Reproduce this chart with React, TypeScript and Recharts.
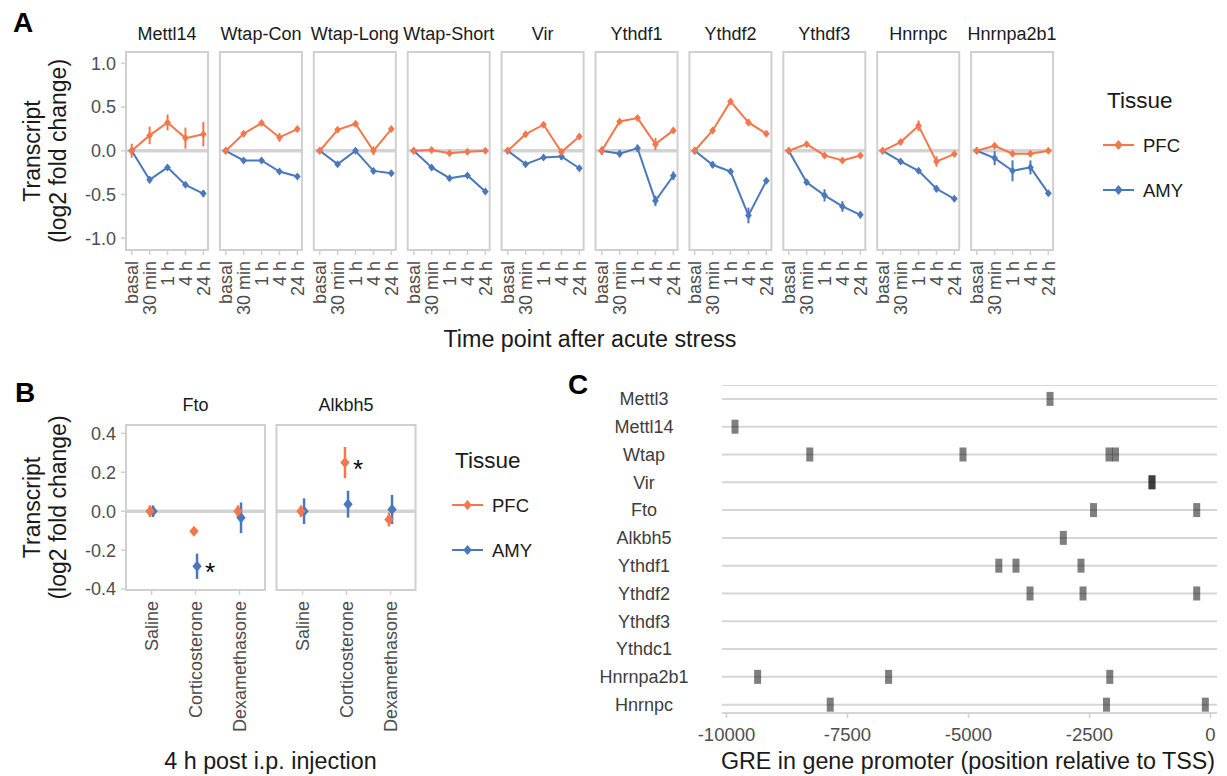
import React from 'react';
import { LineChart, Line, XAxis, YAxis, ErrorBar, ScatterChart, Scatter, ReferenceLine, CartesianGrid } from 'recharts';

const FONT = '"Liberation Sans", Arial, Helvetica, sans-serif';
const PFC_COLOR = '#F4774B';
const AMY_COLOR = '#4A78BA';
const BORDER = '#d0d0d0';
const ZERO = '#d3d3d3';
const TICK_TEXT = '#4d4d4d';
const DARK = '#1a1a1a';
const TITLE_SIZE = 23.3;

// ---------------- Panel A data ----------------
const timepoints = ['basal', '30 min', '1 h', '4 h', '24 h'];
const genesA = ['Mettl14', 'Wtap-Con', 'Wtap-Long', 'Wtap-Short', 'Vir', 'Ythdf1', 'Ythdf2', 'Ythdf3', 'Hnrnpc', 'Hnrnpa2b1'];
const pfcMeanA = [
  [0, 0.176, 0.324, 0.145, 0.19],
  [0, 0.195, 0.317, 0.153, 0.248],
  [0, 0.24, 0.31, 0.0, 0.248],
  [0, 0.01, -0.027, -0.01, 0.0],
  [0, 0.19, 0.298, -0.015, 0.164],
  [0, 0.336, 0.374, 0.076, 0.233],
  [0, 0.233, 0.565, 0.324, 0.195],
  [0, 0.076, -0.053, -0.11, -0.053],
  [0, 0.1, 0.286, -0.122, -0.038],
  [0, 0.057, -0.034, -0.034, 0.0],
];
const pfcErrA = [
  [0.08, 0.1, 0.09, 0.12, 0.14],
  [0.02, 0.02, 0.02, 0.05, 0.03],
  [0.02, 0.02, 0.02, 0.05, 0.02],
  [0.02, 0.02, 0.02, 0.03, 0.02],
  [0.02, 0.02, 0.02, 0.04, 0.02],
  [0.05, 0.02, 0.02, 0.07, 0.03],
  [0.04, 0.02, 0.02, 0.04, 0.02],
  [0.02, 0.02, 0.02, 0.03, 0.02],
  [0.02, 0.02, 0.06, 0.06, 0.02],
  [0.02, 0.02, 0.02, 0.03, 0.02],
];
const amyMeanA = [
  [0, -0.332, -0.19, -0.39, -0.49],
  [0, -0.11, -0.11, -0.237, -0.294],
  [0, -0.153, 0.0, -0.23, -0.256],
  [0, -0.19, -0.313, -0.282, -0.466],
  [0, -0.153, -0.076, -0.065, -0.2],
  [0, -0.034, 0.03, -0.573, -0.286],
  [0, -0.16, -0.237, -0.74, -0.344],
  [0, -0.36, -0.51, -0.637, -0.733],
  [0, -0.122, -0.229, -0.435, -0.55],
  [0, -0.084, -0.229, -0.19, -0.485],
];
const amyErrA = [
  [0.02, 0.04, 0.025, 0.025, 0.04],
  [0.02, 0.02, 0.02, 0.02, 0.02],
  [0.02, 0.02, 0.02, 0.03, 0.02],
  [0.01, 0.02, 0.02, 0.02, 0.03],
  [0.02, 0.02, 0.02, 0.04, 0.02],
  [0.02, 0.04, 0.04, 0.06, 0.05],
  [0.02, 0.04, 0.02, 0.09, 0.02],
  [0.02, 0.03, 0.07, 0.06, 0.04],
  [0.03, 0.02, 0.02, 0.04, 0.03],
  [0.02, 0.08, 0.12, 0.08, 0.03],
];
const yTicksA = [-1, -0.5, 0, 0.5, 1];

// ---------------- Panel B data ----------------
const treatments = ['Saline', 'Corticosterone', 'Dexamethasone'];
const genesB = ['Fto', 'Alkbh5'];
const pfcMeanB = [[0, -0.103, 0.0], [0, 0.25, -0.043]];
const pfcErrB = [[0.03, 0.01, 0.03], [0.03, 0.08, 0.035]];
const amyMeanB = [[0, -0.283, -0.034], [0, 0.036, 0.009]];
const amyErrB = [[0.03, 0.065, 0.079], [0.066, 0.069, 0.075]];
const pfcSigB = [['', '', ''], ['', '*', '']];
const amySigB = [['', '*', ''], ['', '', '']];
const yTicksB = [-0.4, -0.2, 0, 0.2, 0.4];

// ---------------- Panel C data ----------------
const genesC = ['Mettl3', 'Mettl14', 'Wtap', 'Vir', 'Fto', 'Alkbh5', 'Ythdf1', 'Ythdf2', 'Ythdf3', 'Ythdc1', 'Hnrnpa2b1', 'Hnrnpc'];
const greSites = [
  [-3316],
  [-9824],
  [-8279, -5114, -2097, -1963],
  [-1209, -1209],
  [-2417, -285],
  [-3041],
  [-4374, -4019, -2676],
  [-3729, -2634, -285],
  [],
  [],
  [-9357, -6651, -2081],
  [-7857, -2149, -107],
];
const xTicksC = [-10000, -7500, -5000, -2500, 0];

// ---------------- layout ----------------
const A_LEFT0 = 126;
const A_STEP = 93.9;
const A_W = 82;
const A_TOP = 52;
const A_H = 198;
const B_LEFTS = [126, 276.5];
const B_W = 139;
const B_TOP = 425;
const B_H = 165;
const M = 8;
const DOMAIN_A: [number, number] = [-1.135, 1.13];
const XDOMAIN_A: [number, number] = [-0.32, 4.26];
const DOMAIN_B: [number, number] = [-0.405, 0.443];
const XDOMAIN_B: [number, number] = [-0.58, 2.58];

const diamondPath = (cx: number, cy: number, r: number) =>
  `M${cx},${cy - r}L${cx + r * 0.85},${cy}L${cx},${cy + r}L${cx - r * 0.85},${cy}Z`;

const makeDot = (color: string, r: number) => (p: any) => {
  if (p.cx == null || p.cy == null) return <g key={`d${p.index}`} />;
  return <path key={`d${p.index}`} d={diamondPath(p.cx, p.cy, r)} fill={color} />;
};

const RotTick = (props: any) => {
  const { x, y, label } = props;
  return (
    <text
      x={x}
      y={y}
      transform={`rotate(-90, ${x}, ${y})`}
      textAnchor="end"
      dy="0.35em"
      fill={TICK_TEXT}
      fontSize={18}
      fontFamily={FONT}
    >
      {label}
    </text>
  );
};

function FacetA({ idx }: { idx: number }) {
  const first = idx === 0;
  const yW = first ? 46 : 0;
  const data = timepoints.map((t, j) => ({
    x: j,
    pfc: pfcMeanA[idx][j],
    pfcErr: pfcErrA[idx][j],
    amy: amyMeanA[idx][j],
    amyErr: amyErrA[idx][j],
  }));
  const plotLeft = A_LEFT0 + A_STEP * idx;
  return (
    <div style={{ position: 'absolute', left: plotLeft - M - yW, top: A_TOP - M }}>
      <LineChart width={A_W + 2 * M + yW} height={M + A_H + 80} data={data} margin={{ top: M, right: M, bottom: 0, left: M }}>
        <XAxis
          dataKey="x"
          type="number"
          domain={XDOMAIN_A}
          allowDataOverflow
          ticks={[0, 1, 2, 3, 4]}
          interval={0}
          height={80}
          tickSize={5}
          tickMargin={6}
          axisLine={false}
          tickLine={{ stroke: BORDER, strokeWidth: 1.5 }}
          tick={(p: any) => <RotTick key={`t${p.index}`} {...p} label={timepoints[p.payload.value]} />}
        />
        <YAxis
          type="number"
          domain={DOMAIN_A}
          allowDataOverflow
          ticks={yTicksA}
          width={first ? yW : 1}
          hide={!first}
          tick={{ fill: TICK_TEXT, fontSize: 18, fontFamily: FONT }}
          tickFormatter={(v: number) => v.toFixed(1)}
          tickSize={5}
          tickMargin={5}
          tickLine={{ stroke: BORDER, strokeWidth: 1.5 }}
          axisLine={false}
        />
        <ReferenceLine y={0} stroke={ZERO} strokeWidth={3.5} />
        <Line dataKey="amy" stroke={AMY_COLOR} strokeWidth={2} isAnimationActive={false} dot={makeDot(AMY_COLOR, 4)} activeDot={false}>
          <ErrorBar dataKey="amyErr" direction="y" width={0} stroke={AMY_COLOR} strokeWidth={2} />
        </Line>
        <Line dataKey="pfc" stroke={PFC_COLOR} strokeWidth={2} isAnimationActive={false} dot={makeDot(PFC_COLOR, 4)} activeDot={false}>
          <ErrorBar dataKey="pfcErr" direction="y" width={0} stroke={PFC_COLOR} strokeWidth={2} />
        </Line>
      </LineChart>
    </div>
  );
}

const makeShapeB = (color: string) => (p: any) => {
  const { cx, cy, payload } = p;
  if (cx == null || cy == null) return <g />;
  return (
    <g>
      <path d={diamondPath(cx, cy, 5.5)} fill={color} />
      {payload && payload.sig ? (
        <text x={cx + 13} y={cy + 15} textAnchor="middle" fontSize={26} fontFamily={FONT} fill="#000">
          {payload.sig}
        </text>
      ) : null}
    </g>
  );
};

function FacetB({ idx }: { idx: number }) {
  const first = idx === 0;
  const yW = first ? 46 : 0;
  const pfcData = treatments.map((t, j) => ({ x: j - 0.035, y: pfcMeanB[idx][j], err: pfcErrB[idx][j], sig: pfcSigB[idx][j] }));
  const amyData = treatments.map((t, j) => ({ x: j + 0.035, y: amyMeanB[idx][j], err: amyErrB[idx][j], sig: amySigB[idx][j] }));
  const plotLeft = B_LEFTS[idx];
  return (
    <div style={{ position: 'absolute', left: plotLeft - M - yW, top: B_TOP - M }}>
      <ScatterChart width={B_W + 2 * M + yW} height={M + B_H + 150} margin={{ top: M, right: M, bottom: 0, left: M }}>
        <XAxis
          dataKey="x"
          type="number"
          domain={XDOMAIN_B}
          allowDataOverflow
          ticks={[0, 1, 2]}
          interval={0}
          height={150}
          tickSize={5}
          tickMargin={6}
          axisLine={false}
          tickLine={{ stroke: BORDER, strokeWidth: 1.5 }}
          tick={(p: any) => <RotTick key={`t${p.index}`} {...p} label={treatments[p.payload.value]} />}
        />
        <YAxis
          dataKey="y"
          type="number"
          domain={DOMAIN_B}
          allowDataOverflow
          ticks={yTicksB}
          width={first ? yW : 1}
          hide={!first}
          tick={{ fill: TICK_TEXT, fontSize: 18, fontFamily: FONT }}
          tickFormatter={(v: number) => v.toFixed(1)}
          tickSize={5}
          tickMargin={5}
          tickLine={{ stroke: BORDER, strokeWidth: 1.5 }}
          axisLine={false}
        />
        <ReferenceLine y={0} stroke={ZERO} strokeWidth={3.5} />
        <Scatter data={amyData} dataKey="y" fill={AMY_COLOR} isAnimationActive={false} shape={makeShapeB(AMY_COLOR)}>
          <ErrorBar dataKey="err" direction="y" width={0} stroke={AMY_COLOR} strokeWidth={2.5} />
        </Scatter>
        <Scatter data={pfcData} dataKey="y" fill={PFC_COLOR} isAnimationActive={false} shape={makeShapeB(PFC_COLOR)}>
          <ErrorBar dataKey="err" direction="y" width={0} stroke={PFC_COLOR} strokeWidth={2.5} />
        </Scatter>
      </ScatterChart>
    </div>
  );
}

const greData = greSites.flatMap((sites, row) => sites.map((pos) => ({ pos, row })));

const GreRect = (p: any) => {
  const { cx, cy } = p;
  if (cx == null || cy == null) return <g />;
  return <rect x={cx - 3.5} y={cy - 7} width={7} height={14} fill="#000" fillOpacity={0.5} />;
};

function PanelC() {
  return (
    <div style={{ position: 'absolute', left: 590, top: 385 }}>
      <ScatterChart width={637} height={328 + 42} margin={{ top: 0, right: 10, bottom: 0, left: 0 }}>
        <CartesianGrid horizontal vertical={false} stroke="#d6d6d6" strokeWidth={2} />
        <XAxis
          dataKey="pos"
          type="number"
          domain={[-10093, 134]}
          allowDataOverflow
          ticks={xTicksC}
          interval={0}
          height={42}
          axisLine={false}
          tickSize={5}
          tickMargin={10}
          tickLine={{ stroke: BORDER, strokeWidth: 1.5 }}
          tick={{ fill: TICK_TEXT, fontSize: 18.5, fontFamily: FONT }}
        />
        <YAxis
          dataKey="row"
          type="number"
          domain={[-0.5, 11.3]}
          reversed
          allowDataOverflow
          ticks={genesC.map((g, i) => i)}
          interval={0}
          width={132}
          axisLine={false}
          tickLine={false}
          tickSize={0}
          tickMargin={0}
          tick={(p: any) => (
            <text key={`g${p.index}`} x={p.x - 78} y={p.y} dy="0.35em" textAnchor="middle" fill="#3d3d3d" fontSize={18} fontFamily={FONT}>
              {genesC[p.payload.value]}
            </text>
          )}
        />
        <Scatter data={greData} dataKey="row" isAnimationActive={false} shape={GreRect} />
      </ScatterChart>
    </div>
  );
}

function LegendBlock({ x, titleY, itemYs, keyX }: { x: number; titleY: number; itemYs: number[]; keyX: number }) {
  const items = [
    { name: 'PFC', color: PFC_COLOR },
    { name: 'AMY', color: AMY_COLOR },
  ];
  return (
    <g>
      <text x={x} y={titleY} fontSize={22.5} fontFamily={FONT} fill={DARK}>Tissue</text>
      {items.map((it, i) => (
        <g key={it.name}>
          <line x1={keyX} x2={keyX + 31} y1={itemYs[i]} y2={itemYs[i]} stroke={it.color} strokeWidth={2} />
          <path d={diamondPath(keyX + 15.5, itemYs[i], 5)} fill={it.color} />
          <text x={keyX + 40} y={itemYs[i] + 7} fontSize={18.5} fontFamily={FONT} fill={DARK}>{it.name}</text>
        </g>
      ))}
    </g>
  );
}

export default function App() {
  return (
    <div style={{ position: 'absolute', left: 0, top: 0, width: 1227, height: 776, background: '#fff', fontFamily: FONT, overflow: 'hidden' }}>
      {genesA.map((g, i) => (
        <FacetA key={g} idx={i} />
      ))}
      {genesB.map((g, i) => (
        <FacetB key={g} idx={i} />
      ))}
      <PanelC />
      <svg width={1227} height={776} style={{ position: 'absolute', left: 0, top: 0, pointerEvents: 'none' }}>
        {/* panel borders */}
        {genesA.map((g, i) => (
          <rect key={`ba${g}`} x={A_LEFT0 + A_STEP * i} y={A_TOP} width={A_W} height={A_H} fill="none" stroke={BORDER} strokeWidth={2} />
        ))}
        {genesB.map((g, i) => (
          <rect key={`bb${g}`} x={B_LEFTS[i]} y={B_TOP} width={B_W} height={B_H} fill="none" stroke={BORDER} strokeWidth={2} />
        ))}

        {/* panel letters */}
        <text x={13} y={32} fontSize={28} fontWeight="bold" fontFamily={FONT} fill="#000">A</text>
        <text x={15} y={402} fontSize={28} fontWeight="bold" fontFamily={FONT} fill="#000">B</text>
        <text x={568} y={394} fontSize={28} fontWeight="bold" fontFamily={FONT} fill="#000">C</text>

        {/* Panel A strips */}
        {genesA.map((g, i) => (
          <text key={g} x={A_LEFT0 + A_STEP * i + A_W / 2} y={40} textAnchor="middle" fontSize={18} fontFamily={FONT} fill={DARK}>{g}</text>
        ))}
        {/* Panel A titles */}
        <text x={590} y={347} textAnchor="middle" fontSize={TITLE_SIZE} fontFamily={FONT} fill={DARK}>Time point after acute stress</text>
        <text transform="translate(40,151) rotate(-90)" textAnchor="middle" fontSize={23} fontFamily={FONT} fill={DARK}>Transcript</text>
        <text transform="translate(66,151) rotate(-90)" textAnchor="middle" fontSize={23} fontFamily={FONT} fill={DARK}>(log2 fold change)</text>
        <LegendBlock x={1107} titleY={108} itemYs={[145, 190]} keyX={1103} />

        {/* Panel B strips */}
        {genesB.map((g, i) => (
          <text key={g} x={B_LEFTS[i] + B_W / 2} y={411} textAnchor="middle" fontSize={18} fontFamily={FONT} fill={DARK}>{g}</text>
        ))}
        <text x={270.5} y={769} textAnchor="middle" fontSize={TITLE_SIZE} fontFamily={FONT} fill={DARK}>4 h post i.p. injection</text>
        <text transform="translate(40,507.5) rotate(-90)" textAnchor="middle" fontSize={23} fontFamily={FONT} fill={DARK}>Transcript</text>
        <text transform="translate(66,507.5) rotate(-90)" textAnchor="middle" fontSize={23} fontFamily={FONT} fill={DARK}>(log2 fold change)</text>
        <LegendBlock x={455} titleY={468} itemYs={[505, 550]} keyX={452} />

        {/* Panel C title */}
        <text x={968} y={769} textAnchor="middle" fontSize={TITLE_SIZE} fontFamily={FONT} fill={DARK}>GRE in gene promoter (position relative to TSS)</text>
      </svg>
    </div>
  );
}
